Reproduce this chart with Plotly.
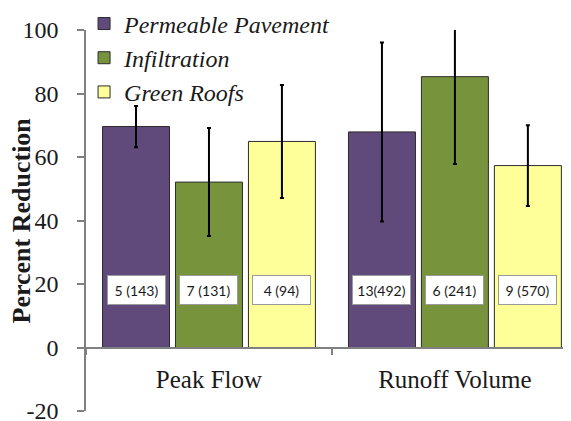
import plotly.graph_objects as go

categories = ["Peak Flow", "Runoff Volume"]
series_names = ["Permeable Pavement", "Infiltration", "Green Roofs"]
values = {
    "Permeable Pavement": [69.6, 67.9],
    "Infiltration": [52.1, 85.3],
    "Green Roofs": [64.9, 57.3],
}
errors = {
    "Permeable Pavement": [6.5, 28.2],
    "Infiltration": [17.0, 27.5],
    "Green Roofs": [17.8, 12.7],
}
counts = {
    "Permeable Pavement": ["5 (143)", "13(492)"],
    "Infiltration": ["7 (131)", "6 (241)"],
    "Green Roofs": ["4 (94)", "9 (570)"],
}
colors = {
    "Permeable Pavement": "#604a7b",
    "Infiltration": "#77933c",
    "Green Roofs": "#ffff99",
}
y_ticks = [-20, 0, 20, 40, 60, 80, 100]
y_tick_labels = ["-20", "0", "20", "40", "60", "80", "100"]
label_y = 18

BARGAP = 0.11
GROUPGAP = 0.082
SERIF = "Liberation Serif, Times New Roman, serif"

fig = go.Figure()
for name in series_names:
    fig.add_trace(go.Bar(
        name=name,
        x=categories,
        y=values[name],
        marker=dict(color=colors[name], line=dict(color="#2b2b2b", width=1)),
        error_y=dict(type="data", array=errors[name], visible=True,
                     color="black", thickness=2, width=2),
    ))

slot = (1 - BARGAP) / len(series_names)
annotations = []
for si, name in enumerate(series_names):
    for ci, cat in enumerate(categories):
        annotations.append(dict(
            x=ci + (si - (len(series_names) - 1) / 2) * slot,
            y=label_y, xref="x", yref="y",
            text=counts[name][ci], showarrow=False,
            font=dict(family="Lato", size=14, color="#1a1a1a"),
            bgcolor="white", bordercolor="#9a9a9a", borderwidth=1,
            width=55, height=26,
        ))

# y-axis title placed as an annotation (sits close to tick labels like the reference)
annotations.append(dict(
    x=-0.132, y=0.5, xref="paper", yref="paper",
    text="<b>Percent Reduction</b>", textangle=-90, showarrow=False,
    xanchor="center", yanchor="middle",
    font=dict(family=SERIF, size=26, color="#1a1a1a"),
))

# The page body adds an 8px offset; size the figure to fill the rest of the window.
fig.update_layout(
    width=563, height=413,
    margin=dict(l=78, r=0, t=22, b=10, autoexpand=False),
    paper_bgcolor="white", plot_bgcolor="white",
    barmode="group", bargap=BARGAP, bargroupgap=GROUPGAP,
    showlegend=True,
    legend=dict(x=-0.004, y=1.075, xanchor="left", yanchor="top",
                bgcolor="rgba(0,0,0,0)",
                font=dict(family=SERIF, size=24, style="italic", color="#1a1a1a"),
                tracegroupgap=0, itemwidth=30),
    annotations=annotations,
    xaxis=dict(
        range=[-0.5, 1.472], type="category",
        anchor="free", position=1/6,
        showline=True, linecolor="#808080", linewidth=1.5,
        ticks="outside", tickson="boundaries", ticklen=7, tickcolor="#808080", tickwidth=1.5,
        tickfont=dict(family=SERIF, size=25, color="#1a1a1a"),
        ticklabelstandoff=10,
        showgrid=False, zeroline=False,
    ),
    yaxis=dict(
        range=[-20, 100], tickvals=y_ticks, ticktext=y_tick_labels,
        showline=True, linecolor="#808080", linewidth=1.5,
        ticks="outside", ticklen=7, tickcolor="#808080", tickwidth=1.5,
        tickfont=dict(family=SERIF, size=24, color="#1a1a1a"),
        ticklabelstandoff=14, ticklabeloverflow="allow",
        showgrid=False, zeroline=False,
    ),
)

fig.write_html("out.html")
